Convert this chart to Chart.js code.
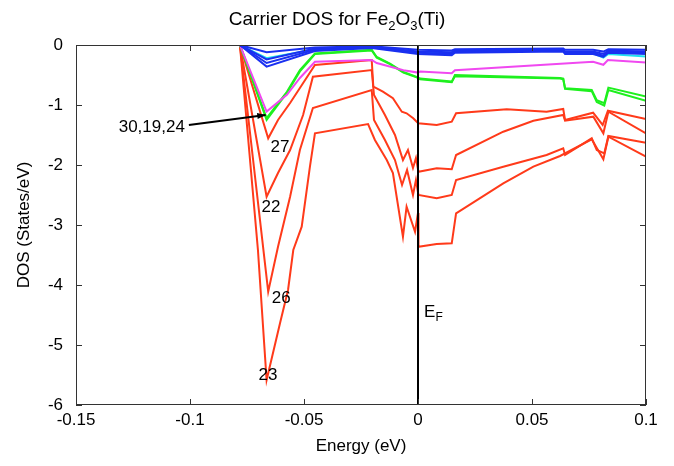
<!DOCTYPE html>
<html>
<head>
    <title>Carrier DOS for Fe2O3(Ti)</title>
    <script src="https://cdn.jsdelivr.net/npm/chart.js"></script>
    <style>
        html, body { margin: 0; padding: 0; background: #fff; }
        #wrap { width: 674px; height: 466px; }
    </style>
</head>
<body>
<div id="wrap"><canvas id="dosChart" width="674" height="466"></canvas></div>
<script>
// tick values
const energyTicks = [-0.15, -0.1, -0.05, 0, 0.05, 0.1];
const dosTicks = [0, -1, -2, -3, -4, -5, -6];
const fermiEnergy = 0;

// red curves (samples 27, 22, 26, 23)
const energy27 = [-0.15, -0.0781, -0.0657, -0.0614, -0.0561, -0.0518, -0.0452, -0.0203, -0.0196, -0.0181, -0.0154, -0.0110, -0.0071, -0.0050, -0.0021, 0.0001, 0.0082, 0.0148, 0.0167, 0.0389, 0.0564, 0.0637, 0.0645, 0.0768, 0.0810, 0.0833, 0.1];
const dos27 = [0, 0, -1.555, -1.25, -0.967, -0.717, -0.333, -0.25, -0.695, -0.722, -0.778, -0.888, -1.112, -1.138, -1.222, -1.305, -1.333, -1.278, -1.138, -1.072, -1.112, -1.067, -1.25, -1.128, -1.333, -1.095, -1.233];

const energy22 = [-0.15, -0.0781, -0.0664, -0.0614, -0.0561, -0.0504, -0.0461, -0.0203, -0.0193, -0.0145, -0.0101, -0.0066, -0.0044, -0.0022, -0.0009, 0.0002, 0.0082, 0.0148, 0.0167, 0.0374, 0.0506, 0.0637, 0.0645, 0.0769, 0.0813, 0.0835, 0.1];
const dos22 = [0, 0, -2.528, -2.133, -1.75, -1.167, -0.528, -0.417, -0.833, -1.167, -1.5, -1.917, -1.75, -2.05, -1.883, -2.112, -2.055, -2.072, -1.833, -1.445, -1.262, -1.167, -1.262, -1.195, -1.472, -1.112, -1.472];

const energy26 = [-0.15, -0.0781, -0.0657, -0.0614, -0.0561, -0.0518, -0.0461, -0.0203, -0.0193, -0.0145, -0.0101, -0.0070, -0.0048, -0.0022, -0.0009, 0.0002, 0.0082, 0.0148, 0.0167, 0.0374, 0.0564, 0.0637, 0.0645, 0.0762, 0.0784, 0.0817, 0.0835, 0.1];
const dos26 = [0, 0, -4.112, -3.362, -2.528, -1.75, -1.05, -0.75, -1.25, -1.583, -1.917, -2.333, -2.083, -2.5, -2.25, -2.5, -2.555, -2.5, -2.25, -2.028, -1.833, -1.722, -1.833, -1.555, -1.75, -1.805, -1.517, -1.628];

const energy23 = [-0.15, -0.0781, -0.0702, -0.0664, -0.0605, -0.0570, -0.0547, -0.0510, -0.0474, -0.0452, -0.0219, -0.0189, -0.0137, -0.0110, -0.0066, -0.0050, -0.0013, 0, 0.0002, 0.0082, 0.0148, 0.0167, 0.0374, 0.0506, 0.0623, 0.0762, 0.0813, 0.0835, 0.1];
const dos23 = [0, 0, -3.417, -5.583, -4.633, -4.083, -3.417, -3.028, -2.028, -1.472, -1.317, -1.583, -1.917, -2.133, -3.195, -2.695, -3.112, -2.8, -3.362, -3.317, -3.305, -2.805, -2.305, -2.028, -1.85, -1.572, -1.905, -1.528, -1.862];

// green / magenta curves (samples 30, 19, 24)
const energyGreen = [-0.15, -0.0781, -0.0664, -0.0575, -0.0518, -0.0452, -0.0203, -0.0181, -0.0123, -0.0064, -0.0006, 0.0009, 0.0148, 0.0162, 0.0623, 0.0637, 0.0645, 0.0762, 0.0784, 0.0817, 0.0835, 0.1];
const dosGreen1 = [0, 0, -1.22, -0.78, -0.42, -0.14, -0.08, -0.20, -0.31, -0.45, -0.53, -0.56, -0.61, -0.50, -0.55, -0.56, -0.72, -0.75, -0.92, -0.97, -0.71, -0.86];
const dosGreen2 = [0, 0, -1.25, -0.80, -0.44, -0.15, -0.09, -0.21, -0.32, -0.46, -0.54, -0.57, -0.62, -0.52, -0.56, -0.57, -0.73, -0.77, -0.95, -1.01, -0.75, -0.93];

const energyMagenta = [-0.15, -0.0781, -0.0664, -0.0575, -0.0518, -0.0452, -0.0203, -0.0181, -0.0064, 0, 0.0009, 0.0148, 0.0162, 0.0768, 0.0813, 0.0833, 0.1];
const dosMagenta = [0, 0, -1.11, -0.83, -0.55, -0.28, -0.25, -0.30, -0.42, -0.46, -0.44, -0.47, -0.42, -0.28, -0.33, -0.25, -0.29];

// blue / cyan curves
const energyBlue = [-0.15, -0.0781, -0.0664, -0.0452, -0.0203, 0, 0.0148, 0.0162, 0.0637, 0.0645, 0.0768, 0.0813, 0.0835, 0.1];
const dosBlue1 = [0, 0, -0.36, -0.10, -0.05, -0.15, -0.17, -0.13, -0.11, -0.15, -0.15, -0.20, -0.13, -0.15];
const dosBlue2 = [0, 0, -0.30, -0.08, -0.04, -0.13, -0.15, -0.11, -0.09, -0.13, -0.13, -0.18, -0.11, -0.13];
const dosBlue3 = [0, 0, -0.24, -0.06, -0.03, -0.11, -0.12, -0.09, -0.08, -0.11, -0.11, -0.15, -0.09, -0.11];
const dosBlue4 = [0, 0, -0.12, -0.04, -0.02, -0.08, -0.09, -0.07, -0.06, -0.08, -0.08, -0.11, -0.07, -0.08];
const dosCyan = [0, 0, -0.22, -0.07, -0.03, -0.12, -0.13, -0.10, -0.09, -0.13, -0.14, -0.21, -0.15, -0.19];

// curve labels: [text, energy, dos]
const curveLabels = [['27', -0.0605, -1.7], ['22', -0.0645, -2.7], ['26', -0.0600, -4.23], ['23', -0.0658, -5.5]];
// arrow for the 30,19,24 group: start, end
const arrowLabel = '30,19,24';
const arrowFrom = [-0.1005, -1.335];
const arrowTo = [-0.0668, -1.165];

const RED = '#ff3a1a';
const GREEN = '#1ef01e';
const MAGENTA = '#f048f0';
const CYAN = '#20e0f0';
const BLUE = '#1a30f0';
const FONT = '"Liberation Sans", Arial, Helvetica, sans-serif';

function pts(xs, ys) {
    return xs.map((x, i) => ({x: x, y: ys[i]}));
}
function line(xs, ys, color) {
    return {data: pts(xs, ys), borderColor: color, borderWidth: 2, pointRadius: 0, tension: 0, fill: false};
}

// first dataset is drawn on top
const datasets = [
    {data: pts([fermiEnergy, fermiEnergy], [dosTicks[0], dosTicks[dosTicks.length - 1]]), borderColor: '#000', borderWidth: 2, pointRadius: 0},
    line(energyBlue, dosBlue4, BLUE),
    line(energyBlue, dosBlue3, BLUE),
    line(energyBlue, dosBlue2, BLUE),
    line(energyBlue, dosBlue1, BLUE),
    line(energyBlue, dosCyan, CYAN),
    line(energyMagenta, dosMagenta, MAGENTA),
    line(energyGreen, dosGreen1, GREEN),
    line(energyGreen, dosGreen2, GREEN),
    line(energy27, dos27, RED),
    line(energy22, dos22, RED),
    line(energy26, dos26, RED),
    line(energy23, dos23, RED)
];

const decorations = {
    id: 'decorations',
    afterDraw(chart) {
        const ctx = chart.ctx;
        const xs = chart.scales.x, ys = chart.scales.y;
        const a = chart.chartArea;
        ctx.save();
        // frame
        ctx.strokeStyle = '#333';
        ctx.lineWidth = 1;
        ctx.strokeRect(a.left + 0.5, a.top + 0.5, a.right - a.left - 1, a.bottom - a.top - 1);
        // inward ticks
        ctx.beginPath();
        energyTicks.forEach(v => {
            const px = Math.round(xs.getPixelForValue(v)) + 0.5;
            ctx.moveTo(px, a.bottom); ctx.lineTo(px, a.bottom - 6);
            ctx.moveTo(px, a.top); ctx.lineTo(px, a.top + 6);
        });
        dosTicks.forEach(v => {
            const py = Math.round(ys.getPixelForValue(v)) + 0.5;
            ctx.moveTo(a.left, py); ctx.lineTo(a.left + 6, py);
            ctx.moveTo(a.right, py); ctx.lineTo(a.right - 6, py);
        });
        ctx.stroke();

        // title with subscripts, centred on the canvas
        const tBig = '19px ' + FONT, tSmall = '13px ' + FONT;
        const parts = [['Carrier DOS for Fe', 0], ['2', 1], ['O', 0], ['3', 1], ['(Ti)', 0]];
        let w = 0;
        parts.forEach(p => { ctx.font = p[1] ? tSmall : tBig; w += ctx.measureText(p[0]).width; });
        let tx = chart.width / 2 - w / 2;
        ctx.fillStyle = '#000';
        ctx.textBaseline = 'alphabetic';
        parts.forEach(p => {
            ctx.font = p[1] ? tSmall : tBig;
            ctx.fillText(p[0], tx, p[1] ? 30 : 25);
            tx += ctx.measureText(p[0]).width;
        });

        // curve labels
        const big = '17px ' + FONT, small = '12px ' + FONT;
        ctx.font = big;
        ctx.textAlign = 'center';
        ctx.textBaseline = 'middle';
        curveLabels.forEach(l => {
            ctx.fillText(l[0], xs.getPixelForValue(l[1]), ys.getPixelForValue(l[2]));
        });

        // E_F label
        ctx.textAlign = 'left';
        const ex = xs.getPixelForValue(fermiEnergy) + 6, ey = ys.getPixelForValue(-4.45);
        ctx.fillText('E', ex, ey);
        ctx.font = small;
        ctx.fillText('F', ex + ctx.measureText('E').width * 1.45, ey + 6);

        // arrow with label
        const x0 = xs.getPixelForValue(arrowFrom[0]), y0 = ys.getPixelForValue(arrowFrom[1]);
        const x1 = xs.getPixelForValue(arrowTo[0]), y1 = ys.getPixelForValue(arrowTo[1]);
        ctx.strokeStyle = '#000';
        ctx.lineWidth = 2;
        ctx.beginPath();
        ctx.moveTo(x0, y0); ctx.lineTo(x1, y1);
        ctx.stroke();
        const ang = Math.atan2(y1 - y0, x1 - x0);
        ctx.beginPath();
        ctx.moveTo(x1, y1);
        ctx.lineTo(x1 - 9 * Math.cos(ang - 0.35), y1 - 9 * Math.sin(ang - 0.35));
        ctx.lineTo(x1 - 9 * Math.cos(ang + 0.35), y1 - 9 * Math.sin(ang + 0.35));
        ctx.closePath();
        ctx.fillStyle = '#000';
        ctx.fill();
        ctx.font = big;
        ctx.textAlign = 'right';
        ctx.fillText(arrowLabel, x0 - 4, y0 + 2);
        ctx.restore();
    }
};

new Chart(document.getElementById('dosChart'), {
    type: 'line',
    data: {datasets: datasets},
    options: {
        responsive: false,
        animation: false,
        events: [],
        layout: {padding: {top: 45, right: 28, left: 0, bottom: 0}},
        plugins: {legend: {display: false}, tooltip: {enabled: false}},
        scales: {
            x: {
                type: 'linear',
                min: -0.15,
                max: 0.1,
                afterFit: s => { s.height = 61; },
                afterBuildTicks: s => { s.ticks = energyTicks.map(v => ({value: v})); },
                grid: {display: false, drawTicks: false},
                border: {display: false},
                ticks: {
                    color: '#000',
                    padding: 5,
                    maxRotation: 0,
                    font: {family: FONT, size: 17},
                    callback: v => { const r = Math.round(v * 100) / 100; return r === 0 ? '0' : String(r); }
                },
                title: {display: true, text: 'Energy (eV)', color: '#000', font: {family: FONT, size: 17}, padding: {top: 0, bottom: 9}}
            },
            y: {
                type: 'linear',
                min: -6,
                max: 0,
                afterFit: s => { s.width = 76; },
                afterBuildTicks: s => { s.ticks = dosTicks.map(v => ({value: v})); },
                grid: {display: false, drawTicks: false},
                border: {display: false},
                ticks: {
                    color: '#000',
                    padding: 13,
                    font: {family: FONT, size: 17},
                    callback: v => String(Math.round(v))
                },
                title: {display: true, text: 'DOS (States/eV)', color: '#000', font: {family: FONT, size: 17}, padding: {top: 14, bottom: 0}}
            }
        }
    },
    plugins: [decorations]
});
</script>
</body>
</html>
